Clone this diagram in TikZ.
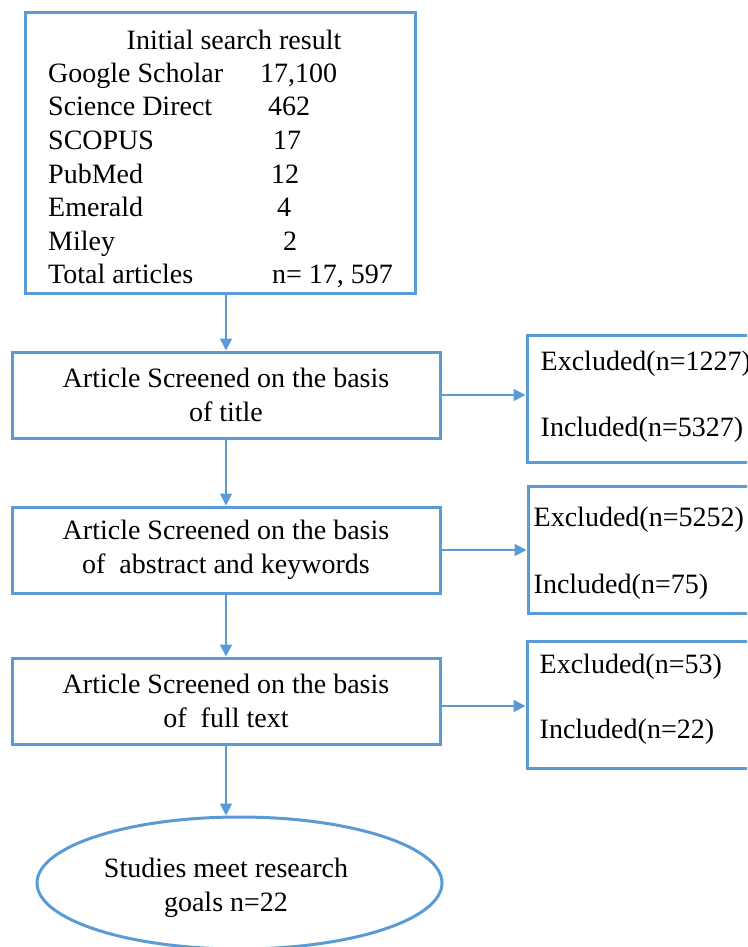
\documentclass[tikz,border=0pt]{standalone}
\usepackage{fontspec}
\setmainfont{Liberation Serif}
\usetikzlibrary{arrows.meta,calc,shapes.geometric}
\definecolor{flowblue}{HTML}{5B9BD5}
\begin{document}
\begin{tikzpicture}[x=1pt,y=-1pt,
  every node/.style={font=\fontsize{28}{34}\selectfont, text=black},
  framebox/.style={draw=flowblue, line width=3pt, rectangle, inner sep=0pt},
  stagebox/.style={framebox, minimum width=428pt, minimum height=86pt, align=center},
  sidebox/.style={framebox, minimum width=236pt, minimum height=127pt},
  goal/.style={draw=flowblue, line width=3pt, ellipse, minimum width=405pt, minimum height=132pt, inner sep=0pt},
  link/.style={draw=flowblue, line width=1.8pt, -{Triangle[length=12pt,width=12pt]}},
  txt/.style={anchor=base west, inner sep=0pt},
]
\useasboundingbox (0,0) rectangle (747,947);
\clip (0,0) rectangle (747,947);

% search results box
\node[framebox, minimum width=390pt, minimum height=280pt] (search) at (220,153) {};
\node[anchor=base, inner sep=0pt] (head) at (234,50) {Initial search result};
\node[txt] (s1) at (48,82.5) {Google Scholar};
\node[txt] (s2) at (48,116) {Science Direct};
\node[txt] (s3) at (48,149.5) {SCOPUS};
\node[txt] (s4) at (48,183) {PubMed};
\node[txt] (s5) at (48,216.5) {Emerald};
\node[txt] (s6) at (48,250) {Miley};
\node[txt] (s7) at (48,283.5) {Total articles};
\node[txt] (n1) at (260,82.5) {17,100};
\node[txt] (n2) at (268,116) {462};
\node[txt] (n3) at (273,149.5) {17};
\node[txt] (n4) at (271,183) {12};
\node[txt] (n5) at (277,216.5) {4};
\node[txt] (n6) at (283,250) {2};
\node[txt] (n7) at (272,283.5) {n= 17, 597};

% screening stages
\node[stagebox] (title) at (226,395) {Article Screened on the basis\\of title};
\node[stagebox] (abs) at (226,550) {Article Screened on the basis\\of\ \ abstract and keywords};
\node[stagebox] (full) at (226,701) {Article Screened on the basis\\of\ \ full text};
\node[goal] (final) at (239.5,883) {};
\node[align=center, inner sep=0pt] (goaltext) at (226,888) {Studies meet research\\goals n=22};

% outcome boxes
\node[sidebox] (outA) at (645,398.5) {};
\node[sidebox] (outB) at (646,549.5) {};
\node[sidebox] (outC) at (645,705) {};
\node[txt] (exA) at ($(outA.north west)+(15,37)$) {Excluded(n=1227)};
\node[txt] (inA) at ($(outA.north west)+(15,103)$) {Included(n=5327)};
\node[txt] (exB) at ($(outB.north west)+(7,42)$) {Excluded(n=5252)};
\node[txt] (inB) at ($(outB.north west)+(7,109)$) {Included(n=75)};
\node[txt] (exC) at ($(outC.north west)+(14,33)$) {Excluded(n=53)};
\node[txt] (inC) at ($(outC.north west)+(14,98)$) {Included(n=22)};

% connectors
\coordinate (fullout) at ($(full.east)+(0,5)$);
\draw[link] (search.south -| title.north) -- (title.north);
\draw[link] (title.south) -- (abs.north);
\draw[link] (abs.south) -- (full.north);
\draw[link] (full.south) -- (full.south |- final.north);
\draw[link] (title.east) -- (title.east -| outA.west);
\draw[link] (abs.east) -- (abs.east -| outB.west);
\draw[link] (fullout) -- (fullout -| outC.west);
\end{tikzpicture}
\end{document}
